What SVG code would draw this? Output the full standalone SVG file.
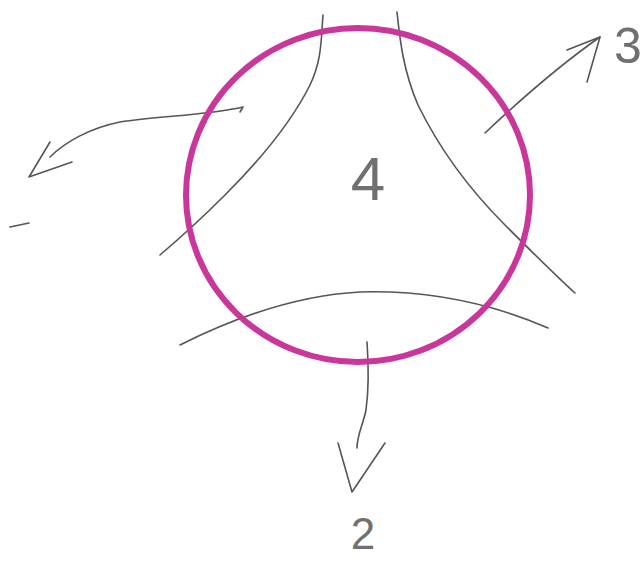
<svg xmlns="http://www.w3.org/2000/svg" width="643" height="562" viewBox="0 0 643 562">
<style>
.ln{fill:none;stroke:#555;stroke-width:1.6;stroke-linecap:round;stroke-linejoin:round}
.lbl{font-family:"Liberation Sans",Arial,sans-serif;fill:#707070;text-anchor:middle;font-weight:normal}
</style>
<rect width="643" height="562" fill="#fff"/>
<g id="connectors">
<path class="ln" d="M323,15 C321,40 322,60 310,85 C290,125 255,165 225,195 C200,220 180,238 160,255"/>
<path class="ln" d="M397,12 C400,40 403,70 418,105 C440,150 470,190 505,225 C535,255 555,275 575,293"/>
<path class="ln" d="M180,345 C240,315 300,295 360,292 C430,290 495,305 548,328"/>
<path class="ln" d="M240,112 L243,107 C210,115 160,116 120,122 C90,128 65,142 50,157"/>
<path class="ln" d="M50,142 L29,177 L72,162"/>
<path class="ln" d="M10,227 L29,223"/>
<path class="ln" d="M485,133 C520,100 560,65 600,37"/>
<path class="ln" d="M567,50 L600,37 L587,82"/>
<path class="ln" d="M367,342 C369,370 368,395 366,410 C363,425 357,435 357,448"/>
<path class="ln" d="M338,443 L352,492 L385,443"/>
</g>
<g id="node4">
<ellipse cx="358" cy="195" rx="172" ry="167" fill="none" stroke="#C9379A" stroke-width="6"/>
<text class="lbl" x="368" y="200" font-size="62">4</text>
</g>
<g id="label3">
<text class="lbl" x="628" y="63" font-size="50">3</text>
</g>
<g id="label2">
<text class="lbl" x="363" y="549" font-size="44">2</text>
</g>
</svg>
